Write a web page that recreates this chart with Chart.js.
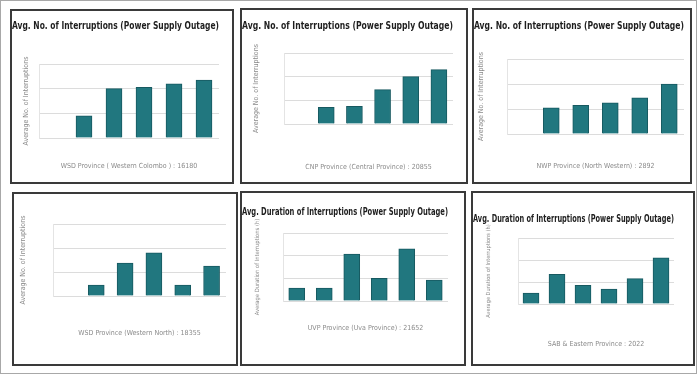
<!DOCTYPE html>
<html>
<head>
<meta charset="utf-8">
<script src="https://cdn.jsdelivr.net/npm/chart.js@4.4.1/dist/chart.umd.min.js"></script>
<style>
  html, body { margin: 0; padding: 0; background: #fff; }
  #page { position: relative; width: 697px; height: 374px; box-sizing: border-box; border: 1px solid #a8a8a8; overflow: hidden; }
  .panel { position: absolute; box-sizing: border-box; border: 2px solid #3a3a3a; background: #fff; }
  .panel canvas { position: absolute; left: 0; top: 0; }
</style>
</head>
<body>
<div id="page"></div>
<script>
// hidden category labels (one slot per bar position)
const categories = ['2017', '2018', '2019', '2020', '2021', '2022']

const titleNum = 'Avg. No. of Interruptions (Power Supply Outage)'
const titleDur = 'Avg. Duration of Interruptions (Power Supply Outage)'
const yTitleNum = 'Average No. of Interruptions'
const yTitleDur = 'Average Duration of Interruptions (h)'

const xTitles = [
    'WSD Province ( Western Colombo ) : 16180',
    'CNP Province (Central Province) : 20855',
    'NWP Province (North Western) : 2892',
    'WSD Province (Western North) : 18355',
    'UVP Province (Uva Province) : 21652',
    'SAB & Eastern Province : 2022'
]

const p1Values = [null, 1.8, 4.0, 4.1, 4.4, 4.7]
const p2Values = [null, 1.4, 1.5, 2.9, 4.0, 4.6]
const p3Values = [null, 2.1, 2.3, 2.5, 2.9, 4.0]
const p4Values = [null, 0.9, 2.75, 3.6, 0.9, 2.5]
const p5Values = [1.15, 1.15, 4.15, 2.0, 4.6, 1.85]
const p6Values = [1.0, 2.7, 1.7, 1.35, 2.3, 4.2]

const page = document.getElementById('page')

const FONT = "'Liberation Sans Narrow', 'DejaVu Sans Condensed', 'Liberation Sans', sans-serif"

makePanel({ x: 10, y: 9, w: 224, h: 175 }, { l: 38, r: 218, t: 63, b: 137 }, 25, 25, 165, titleNum, yTitleNum, 7, xTitles[0], p1Values)
makePanel({ x: 240, y: 8, w: 228, h: 176 }, { l: 283, r: 452, t: 52, b: 123 }, 25, 255, 166, titleNum, yTitleNum, 7, xTitles[1], p2Values)
makePanel({ x: 472, y: 8, w: 220, h: 176 }, { l: 506, r: 683, t: 58, b: 133 }, 25, 480, 165, titleNum, yTitleNum, 7, xTitles[2], p3Values)
makePanel({ x: 12, y: 192, w: 226, h: 174 }, { l: 52, r: 225, t: 223, b: 295 }, null, 22, 332, '', yTitleNum, 7, xTitles[3], p4Values)
makePanel({ x: 240, y: 191, w: 226, h: 175 }, { l: 282, r: 447, t: 232, b: 300 }, 211, 256, 327, titleDur, yTitleDur, 5.8, xTitles[4], p5Values)
makePanel({ x: 471, y: 191, w: 224, h: 175 }, { l: 517, r: 673, t: 237, b: 303 }, 218, 488, 343, titleDur, yTitleDur, 5.6, xTitles[5], p6Values)

function makePanel(box, plot, titleY, yTitleX, xTitleY, title, yTitle, ySize, xTitle, values) {
    const div = document.createElement('div')
    div.className = 'panel'
    div.style.left = (box.x - 1) + 'px'
    div.style.top = (box.y - 1) + 'px'
    div.style.width = box.w + 'px'
    div.style.height = box.h + 'px'
    page.appendChild(div)

    const ox = box.x + 1, oy = box.y + 1
    const cw = box.w - 4, ch = box.h - 4
    const canvas = document.createElement('canvas')
    canvas.width = cw
    canvas.height = ch
    canvas.style.width = cw + 'px'
    canvas.style.height = ch + 'px'
    div.appendChild(canvas)

    const tSize = 10, tLh = tSize * 1.2
    const aSize = 7, aLh = aSize * 1.2
    const yLh = ySize * 1.2

    // work out paddings so the plot area lands where it is in the picture
    let layoutTop = 0, tPadTop = 0, tPadBottom = 0
    if (titleY !== null) {
        tPadTop = Math.max(0, titleY - oy - tLh / 2)
        tPadBottom = Math.max(0, plot.t - oy - tLh - tPadTop)
    } else {
        layoutTop = plot.t - oy
    }
    const yPadTop = Math.max(0, yTitleX - ox - yLh / 2)
    const yPadBottom = Math.max(0, plot.l - ox - yLh - yPadTop)
    const xPadBottom = Math.max(0, ch - (xTitleY - oy) - aLh / 2)
    const xPadTop = Math.max(0, ch - (plot.b - oy) - aLh - xPadBottom)

    new Chart(canvas, {
        type: 'bar',
        data: {
            labels: categories,
            datasets: [{
                data: values,
                backgroundColor: '#21777f',
                borderColor: '#175960',
                borderWidth: 1,
                barThickness: 16
            }]
        },
        options: {
            responsive: false,
            animation: false,
            layout: { padding: { top: layoutTop, left: 0, right: cw - (plot.r - ox), bottom: 0 } },
            plugins: {
                legend: { display: false },
                tooltip: { enabled: false },
                title: {
                    display: titleY !== null,
                    text: title,
                    color: '#1e1e1e',
                    font: { family: FONT, size: tSize, weight: 'bold' },
                    padding: { top: tPadTop, bottom: tPadBottom }
                }
            },
            scales: {
                x: {
                    ticks: { display: false },
                    grid: { display: false, drawTicks: false },
                    border: { display: false },
                    title: {
                        display: true,
                        text: xTitle,
                        color: '#8a8a8a',
                        font: { family: FONT, size: aSize },
                        padding: { top: xPadTop, bottom: xPadBottom }
                    }
                },
                y: {
                    min: 0,
                    max: 6,
                    ticks: { display: false, stepSize: 2 },
                    grid: { color: '#dcdcdc', drawTicks: false },
                    border: { display: true, color: '#e4e4e4' },
                    title: {
                        display: true,
                        text: yTitle,
                        color: '#8a8a8a',
                        font: { family: FONT, size: ySize },
                        padding: { top: yPadTop, bottom: yPadBottom }
                    }
                }
            }
        }
    })
}
</script>
</body>
</html>
